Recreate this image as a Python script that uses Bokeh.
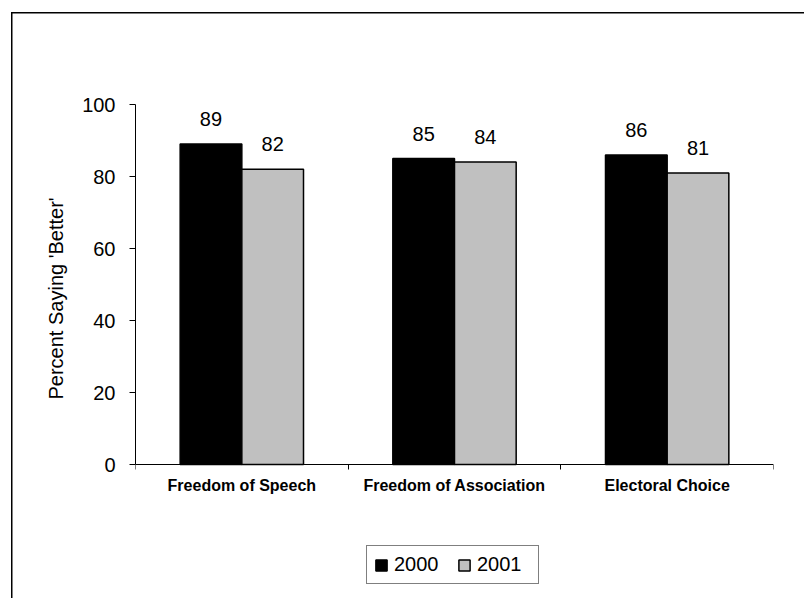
from bokeh.plotting import figure
from bokeh.models import Range1d, FixedTicker, Legend, LegendItem, Title
from bokeh.core.properties import value
from bokeh.embed import file_html
from bokeh.resources import INLINE

categories = ["Freedom of Speech", "Freedom of Association", "Electoral Choice"]
years = ["2000", "2001"]
series_2000 = [89, 85, 86]
series_2001 = [82, 84, 81]
y_ticks = [0, 20, 40, 60, 80, 100]
y_title = "Percent Saying 'Better'"

FONT = "Liberation Sans"
BAR_W = 0.29

n = len(categories)
centers = [i + 0.5 for i in range(n)]
x_2000 = [c - BAR_W / 2 for c in centers]
x_2001 = [c + BAR_W / 2 for c in centers]

# frame: top at 104px, bottom at 588px; value 0 sits at 464px, 100 at 104px
Y_MIN = -(588 - 464) / 3.6

p = figure(width=804, height=598, output_backend="svg", toolbar_location=None,
           x_range=Range1d(0, n), y_range=Range1d(Y_MIN, 100),
           min_border_left=135, min_border_right=31, min_border_top=104, min_border_bottom=10)
p.outline_line_color = None
p.xgrid.visible = False
p.ygrid.visible = False
p.background_fill_alpha = 0
p.border_fill_alpha = 0
p.styles = {
    "background-color": "white",
    "background-image": "linear-gradient(#000, #000), linear-gradient(#000, #000)",
    "background-size": "1.5px 100%, 100% 1.5px",
    "background-position": "11px 12px, 11px 12px",
    "background-repeat": "no-repeat",
}

r0 = p.vbar(x=x_2000, top=series_2000, width=BAR_W, fill_color="black",
            line_color="black", line_width=1.5)
r1 = p.vbar(x=x_2001, top=series_2001, width=BAR_W, fill_color="#C0C0C0",
            line_color="black", line_width=1.5)

p.text(x=x_2000, y=series_2000, text=[str(v) for v in series_2000],
       text_align="center", text_baseline="alphabetic", y_offset=-25,
       text_font=value(FONT), text_font_size="20px", text_color="black")
p.text(x=x_2001, y=series_2001, text=[str(v) for v in series_2001],
       text_align="center", text_baseline="alphabetic", y_offset=-25,
       text_font=value(FONT), text_font_size="20px", text_color="black")

# category labels below the x axis
p.text(x=centers, y=[0] * n, text=categories,
       text_align="center", text_baseline="middle", y_offset=21,
       text_font=value(FONT), text_font_size="16px", text_font_style="bold",
       text_color="black")

# x axis fixed at y=0, ticks at category boundaries
xa = p.xaxis[0]
xa.fixed_location = 0
xa.ticker = FixedTicker(ticks=[], minor_ticks=list(range(n + 1)))
xa.major_tick_out = 0
xa.major_tick_in = 0
xa.minor_tick_out = 5
xa.minor_tick_in = 0
xa.minor_tick_line_color = "black"
xa.axis_line_color = "black"
xa.major_label_text_font_size = "0px"
xa.major_label_standoff = 0

ya = p.yaxis[0]
ya.ticker = FixedTicker(ticks=y_ticks)
ya.bounds = (0, 100)
ya.minor_tick_line_color = None
ya.major_tick_out = 6
ya.major_tick_in = 0
ya.major_tick_line_color = "black"
ya.axis_line_color = "black"
ya.major_label_text_font = FONT
ya.major_label_text_font_size = "20px"
ya.major_label_text_color = "black"
ya.major_label_standoff = 14

ytitle = Title(text=y_title, align="left", offset=189, standoff=26,
               text_font=FONT, text_font_size="20px", text_font_style="normal",
               text_color="black")
p.add_layout(ytitle, "left")

legend = Legend(items=[LegendItem(label=years[0], renderers=[r0]),
                       LegendItem(label=years[1], renderers=[r1])],
                orientation="horizontal", location=(231, 4),
                border_line_color="black", border_line_width=1,
                background_fill_color="white", background_fill_alpha=1,
                glyph_width=14, glyph_height=14, label_standoff=6,
                label_width=54, spacing=9, padding=7, margin=0,
                label_text_font=FONT, label_text_font_size="20px",
                label_text_color="black")
p.add_layout(legend, "center")

open("out.html", "w").write(file_html(p, INLINE))
